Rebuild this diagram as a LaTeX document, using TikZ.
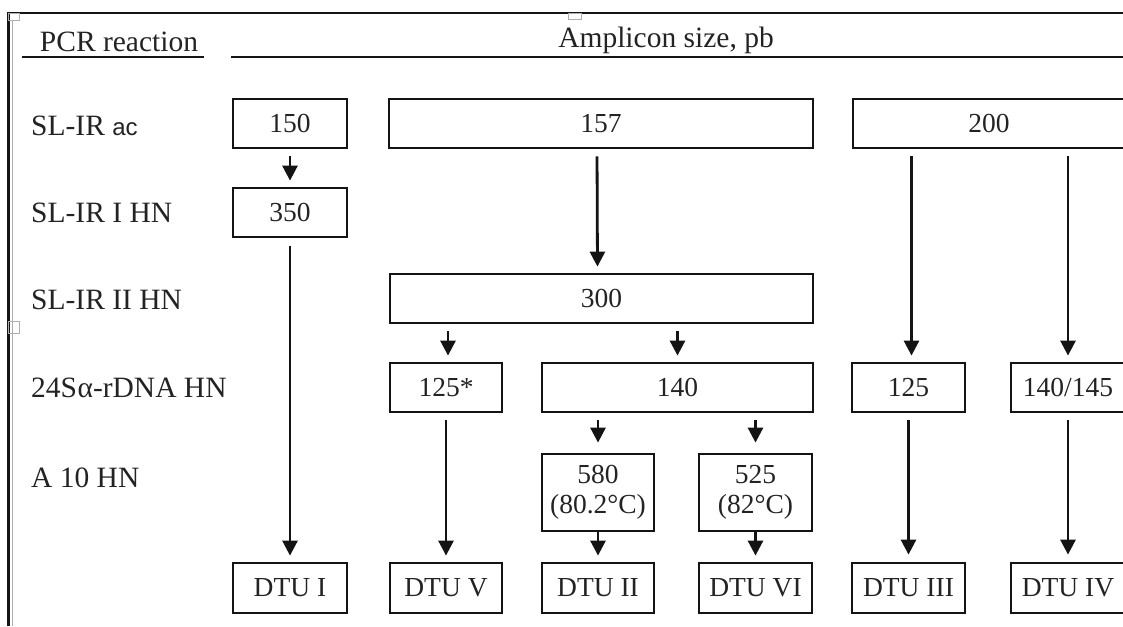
\documentclass[tikz,border=0pt]{standalone}
\usepackage{fontspec}
\setmainfont{Liberation Serif}
\newfontfamily\acfont{Liberation Sans}
\usetikzlibrary{arrows.meta}
\definecolor{ink}{RGB}{20,20,20}
\definecolor{txt}{RGB}{35,35,35}
\definecolor{mark}{RGB}{175,175,175}
\begin{document}
\begin{tikzpicture}[x=1pt,y=-1pt,
  every node/.style={font=\fontsize{27.5}{30}\selectfont, text=txt},
  big/.style={font=\fontsize{29.5}{32}\selectfont},
  box/.style={draw=ink, line width=2.8pt, minimum height=49pt, inner sep=0pt, anchor=center},
  tallbox/.style={box, minimum height=77pt, align=center},
  arr/.style={draw=ink, line width=2.8pt, -{Triangle[width=15pt,length=15pt]}, shorten <=7pt, shorten >=6pt},
  lbl/.style={big, anchor=west, inner sep=0pt},
  rule/.style={draw=ink, line width=2.8pt},
  handle/.style={draw=mark, line width=1pt}]
\useasboundingbox (0,0) rectangle (1123,626);
\clip (0,0) rectangle (1123,626);

% frame
\draw[rule, line width=2.6pt] (7,13) -- (1123,13);
\draw[rule, line width=3pt] (8.5,12) -- (8.5,626);
\draw[handle] (12.5,20) -- (12.5,626);
\draw[handle] (8,14) rectangle (19,21);
\draw[handle] (8,321) rectangle (19,333);
\draw[handle] (568,14) rectangle (581,20);

% headers
\node[big, inner sep=0pt] (hpcr) at (119,42) {PCR reaction};
\node[big, inner sep=0pt] (hamp) at (666,40) {Amplicon size, pb};
\draw[rule] (22,57) -- (204,57);
\draw[rule] (231,57) -- (1123,57);

% row labels
\node[lbl] (r1) at (31,126) {SL-IR {\acfont\fontsize{24}{28}\selectfont ac}};
\node[lbl] (r2) at (31,213) {SL-IR I HN};
\node[lbl] (r3) at (31,300) {SL-IR II HN};
\node[lbl] (r4) at (31,388) {24S\kern0.5pt α-rDNA HN};
\node[lbl] (r5) at (31,478) {A 10 HN};

% row 1
\node[box, minimum width=114pt] (b150) at (290,123.5) {150};
\node[box, minimum width=424pt] (b157) at (601,123.5) {157};
\node[box, minimum width=272pt] (b200) at (989,123.5) {200};
% row 2
\node[box, minimum width=114pt] (b350) at (290,212.5) {350};
% row 3
\node[box, minimum width=423pt] (b300) at (601.5,298.5) {300};
% row 4
\node[box, minimum width=112pt] (b125s) at (446,387.5) {125*};
\node[box, minimum width=271pt] (b140) at (677.5,387.5) {140};
\node[box, minimum width=113pt] (b125) at (908.5,387.5) {125};
\node[box, minimum width=114pt] (b14x) at (1068,387.5) {140/145};
% row 5
\node[tallbox, minimum width=112pt] (b580) at (598,492.5) {580\\(80.2°C)};
\node[tallbox, minimum width=113pt] (b525) at (755.5,492.5) {525\\(82°C)};
% row 6
\node[box, minimum width=114pt, minimum height=50pt] (d1) at (290,588) {DTU I};
\node[box, minimum width=112pt, minimum height=50pt] (d5) at (446,588) {DTU V};
\node[box, minimum width=112pt, minimum height=50pt] (d2) at (598,588) {DTU II};
\node[box, minimum width=113pt, minimum height=50pt] (d6) at (755.5,588) {DTU VI};
\node[box, minimum width=113pt, minimum height=50pt] (d3) at (908.5,588) {DTU III};
\node[box, minimum width=114pt, minimum height=50pt] (d4) at (1068,588) {DTU IV};

% connectors
\draw[arr] (b150) -- (b350);
\draw[arr, shorten <=8pt] (b350) -- (d1);
\draw[arr] ([xshift=-4pt]b157.south) -- ([xshift=-4pt]b300.north);
\draw[arr] ([xshift=3pt]b200.south -| b125.north) -- ([xshift=3pt]b125.north);
\draw[arr] (b200.south -| b14x.north) -- (b14x.north);
\draw[arr] ([xshift=2pt]b300.south -| b125s.north) -- ([xshift=2pt]b125s.north);
\draw[arr] (b300.south -| b140.north) -- (b140.north);
\draw[arr] (b125s) -- (d5);
\draw[arr, shorten >=10pt] (b140.south -| b580.north) -- (b580.north);
\draw[arr, shorten >=10pt] (b140.south -| b525.north) -- (b525.north);
\draw[arr, shorten <=0pt] (b580) -- (d2);
\draw[arr, shorten <=0pt] (b525) -- (d6);
\draw[arr, shorten >=7pt] (b125) -- (d3);
\draw[arr, shorten >=7pt] (b14x) -- (d4);
\end{tikzpicture}
\end{document}
